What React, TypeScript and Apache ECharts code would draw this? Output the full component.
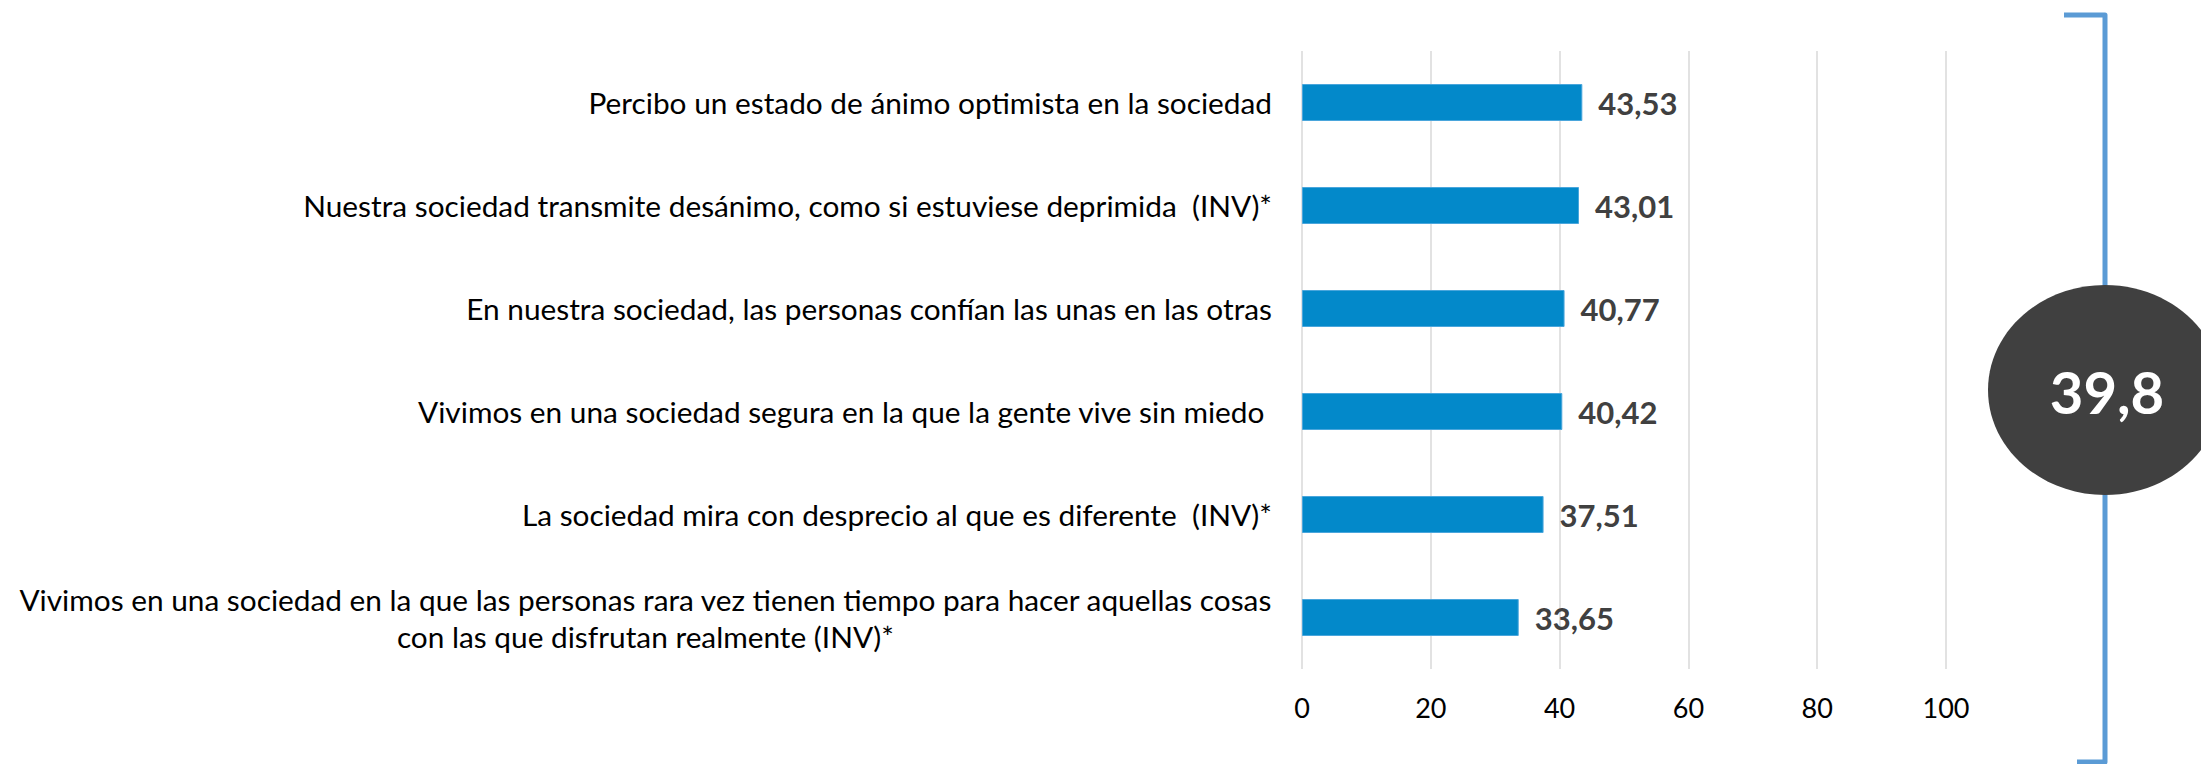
import React, { useEffect, useRef } from "react";
import * as echarts from "echarts";

const categories: string[] = [
  "Percibo un estado de ánimo optimista en la sociedad",
  "Nuestra sociedad transmite desánimo, como si estuviese deprimida  (INV)*",
  "En nuestra sociedad, las personas confían las unas en las otras",
  "Vivimos en una sociedad segura en la que la gente vive sin miedo ",
  "La sociedad mira con desprecio al que es diferente  (INV)*",
  "Vivimos en una sociedad en la que las personas rara vez tienen tiempo para hacer aquellas cosas\ncon las que disfrutan realmente (INV)*",
];

const values: number[] = [43.53, 43.01, 40.77, 40.42, 37.51, 33.65];

const axisMin = 0;
const axisMax = 100;
const axisInterval = 20;

const summaryValue = 39.8;

const fmt = (v: number, d: number) => v.toFixed(d).replace(".", ",");

export default function App() {
  const ref = useRef<HTMLDivElement>(null);

  useEffect(() => {
    if (!ref.current) return;
    const chart = echarts.init(ref.current, undefined, { renderer: "svg" });
    const font = "Lato, 'Open Sans', sans-serif";
    chart.setOption({
      animation: false,
      backgroundColor: "#ffffff",
      grid: { left: 1302, top: 51, width: 644, height: 618, containLabel: false },
      xAxis: {
        type: "value",
        min: axisMin,
        max: axisMax,
        interval: axisInterval,
        axisLine: { show: false },
        axisTick: { show: false },
        splitLine: { show: true, lineStyle: { color: "#d9d9d9", width: 1.5 } },
        axisLabel: { color: "#000000", fontFamily: font, fontSize: 27, margin: 25 },
      },
      yAxis: {
        type: "category",
        inverse: true,
        data: categories,
        axisLine: { show: false },
        axisTick: { show: false },
        axisLabel: {
          color: "#000000",
          fontFamily: font,
          fontSize: 29.8,
          margin: 30,
          lineHeight: 37,
          formatter: (v: string) =>
            v.indexOf("\n") >= 0
              ? v
                  .split("\n")
                  .map((l) => "{c|" + l + "}")
                  .join("\n")
              : v,
          rich: {
            c: { align: "center", fontFamily: font, fontSize: 29.8, lineHeight: 37, color: "#000000" },
          },
        },
      },
      series: [
        {
          type: "bar",
          data: values,
          barWidth: 37,
          itemStyle: { color: "#0389CA", borderColor: "#4aa6dc", borderWidth: 1 },
          label: {
            show: true,
            position: "right",
            distance: 16,
            color: "#404040",
            fontFamily: font,
            fontWeight: "bold",
            fontSize: 31,
            formatter: (p: any) => fmt(p.value, 2),
          },
        },
      ],
      graphic: [
        {
          type: "polyline",
          shape: {
            points: [
              [2064, 15],
              [2105, 15],
              [2105, 762],
              [2077, 762],
            ],
          },
          style: { stroke: "#5B9BD5", lineWidth: 5, fill: "none", lineJoin: "round" },
          z: 10,
        },
        {
          type: "ellipse",
          shape: { cx: 2105, cy: 390, rx: 117, ry: 105 },
          style: { fill: "#404040" },
          z: 11,
        },
        {
          type: "text",
          x: 2107,
          y: 391,
          style: {
            text: fmt(summaryValue, 1),
            fill: "#ffffff",
            font: "bold 58px Lato, 'Open Sans', sans-serif",
            align: "center",
            verticalAlign: "middle",
          },
          z: 12,
        },
      ],
    });
    return () => chart.dispose();
  }, []);

  return (
    <div
      ref={ref}
      style={{ position: "fixed", left: 0, top: 0, width: 2201, height: 764 }}
    />
  );
}
